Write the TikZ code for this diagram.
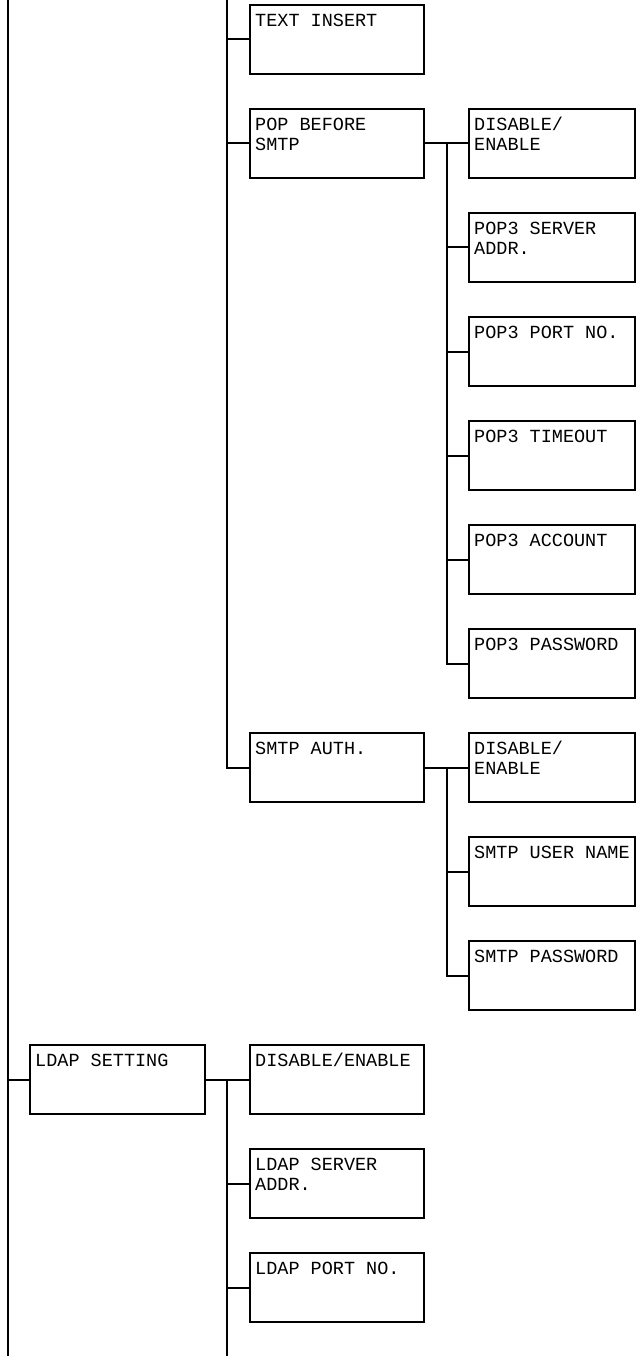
\documentclass[tikz,border=0pt]{standalone}
\usepackage{fontspec}
\setmonofont{Liberation Mono}
\newcommand\mkbox[5]{%
  \node[#2] (#1) at (#3,{-(#4)-34.5}) {};
  \node[lbl] (#1-t) at ([xshift=6pt,yshift=-22.5pt]#1.north west) {\parbox[t]{160pt}{#5}};}
\tikzset{
  box/.style={draw, line width=2pt, minimum height=69pt, inner sep=0pt},
  midbox/.style={box, minimum width=174pt},
  rbox/.style={box, minimum width=166pt},
  lbox/.style={box, minimum width=175pt},
  lbl/.style={anchor=base west, inner sep=0pt, font=\ttfamily\fontsize{18.5}{20}\selectfont},
  conn/.style={line width=2pt}
}
\begin{document}
\begin{tikzpicture}[x=1pt,y=1pt]
\useasboundingbox (0,0) rectangle (636,-1356);
% middle column
\mkbox{ti}{midbox}{337}{5}{TEXT INSERT}
\mkbox{pop}{midbox}{337}{109}{POP BEFORE\\SMTP}
\mkbox{sa}{midbox}{337}{733}{SMTP AUTH.}
% POP children
\mkbox{p1}{rbox}{552}{109}{DISABLE/\\ENABLE}
\mkbox{p2}{rbox}{552}{213}{POP3 SERVER\\ADDR.}
\mkbox{p3}{rbox}{552}{317}{POP3 PORT NO.}
\mkbox{p4}{rbox}{552}{421}{POP3 TIMEOUT}
\mkbox{p5}{rbox}{552}{525}{POP3 ACCOUNT}
\mkbox{p6}{rbox}{552}{629}{POP3 PASSWORD}
% SMTP AUTH children
\mkbox{s1}{rbox}{552}{733}{DISABLE/\\ENABLE}
\mkbox{s2}{rbox}{552}{837}{SMTP USER NAME}
\mkbox{s3}{rbox}{552}{941}{SMTP PASSWORD}
% LDAP
\mkbox{ld}{lbox}{117.5}{1045}{LDAP SETTING}
\mkbox{l1}{midbox}{337}{1045}{DISABLE/ENABLE}
\mkbox{l2}{midbox}{337}{1149}{LDAP SERVER\\ADDR.}
\mkbox{l3}{midbox}{337}{1253}{LDAP PORT NO.}
% bus coordinates
\coordinate (lefttop) at (8,0);
\coordinate (leftbot) at (8,-1356);
\coordinate (midtop) at (227,0);
\coordinate (ldbot) at (227,-1356);
% connectors
\draw[conn] (lefttop) -- (leftbot);
\draw[conn] (8,0 |- ld.west) -- (ld.west);
\draw[conn] (midtop) |- (sa.west);
\draw[conn] (midtop |- ti.west) -- (ti.west);
\draw[conn] (midtop |- pop.west) -- (pop.west);
\draw[conn] (pop.east) -- (p1.west);
\draw[conn] (447,0 |- p1.west) |- (p6.west);
\foreach \n in {p2,p3,p4,p5} \draw[conn] (447,0 |- \n.west) -- (\n.west);
\draw[conn] (sa.east) -- (s1.west);
\draw[conn] (447,0 |- s1.west) |- (s3.west);
\draw[conn] (447,0 |- s2.west) -- (s2.west);
\draw[conn] (ld.east) -- (l1.west);
\draw[conn] (227,0 |- l1.west) -- (ldbot);
\draw[conn] (227,0 |- l2.west) -- (l2.west);
\draw[conn] (227,0 |- l3.west) -- (l3.west);
\end{tikzpicture}
\end{document}
